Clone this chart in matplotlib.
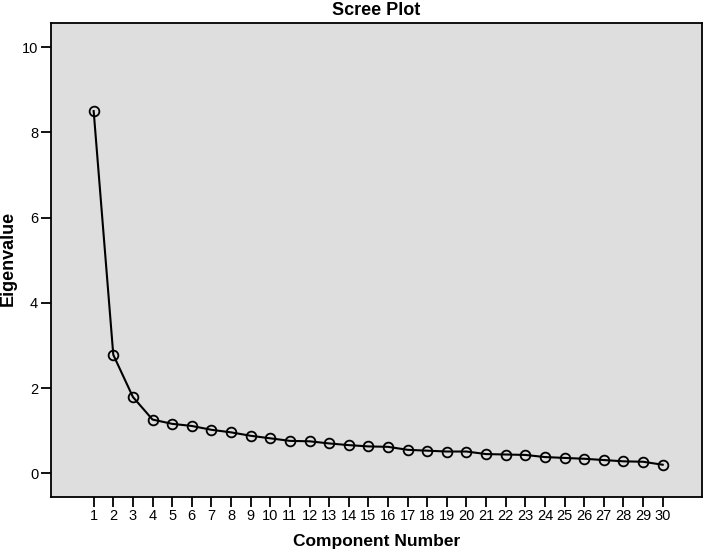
import matplotlib.pyplot as plt

# component numbers and eigenvalues
components = list(range(1, 31))
eigenvalues = [8.50, 2.78, 1.79, 1.26, 1.16, 1.11, 1.02, 0.96, 0.88, 0.82,
               0.76, 0.75, 0.70, 0.66, 0.63, 0.62, 0.55, 0.53, 0.51, 0.51,
               0.45, 0.44, 0.43, 0.38, 0.36, 0.34, 0.31, 0.28, 0.27, 0.20]
y_ticks = [0, 2, 4, 6, 8, 10]

plt.rcParams['font.family'] = ['Liberation Sans', 'DejaVu Sans']

fig = plt.figure(figsize=(7.09, 5.52), dpi=100)
ax = fig.add_axes([0.0715, 0.1002, 0.9191, 0.8576])
ax.set_facecolor('#dedede')

ax.plot(components, eigenvalues, color='black', linewidth=1.5,
        marker='o', markersize=7, markerfacecolor='none',
        markeredgecolor='black', markeredgewidth=1.3)

ax.set_xlim(-1.19, 32.02)
ax.set_ylim(-0.55, 10.56)
ax.set_xticks(components)
ax.set_xticklabels([str(c) for c in components])
ax.set_yticks(y_ticks)

for s in ax.spines.values():
    s.set_linewidth(1.3)
ax.tick_params(axis='both', direction='out', length=7, width=1.3, labelsize=10.5)
ax.tick_params(axis='x', pad=2)
ax.tick_params(axis='y', pad=2)

# title and axis labels placed in figure coords to match the SPSS layout
fig.text(0.531, 0.981, 'Scree Plot', fontsize=13, fontweight='bold',
         ha='center', va='center')
fig.text(0.531, 0.019, 'Component Number', fontsize=12.5, fontweight='bold',
         ha='center', va='center')
fig.text(0.012, 0.531, 'Eigenvalue', fontsize=13, fontweight='bold',
         ha='center', va='center', rotation=90)

fig.savefig('out.png', dpi=100)
